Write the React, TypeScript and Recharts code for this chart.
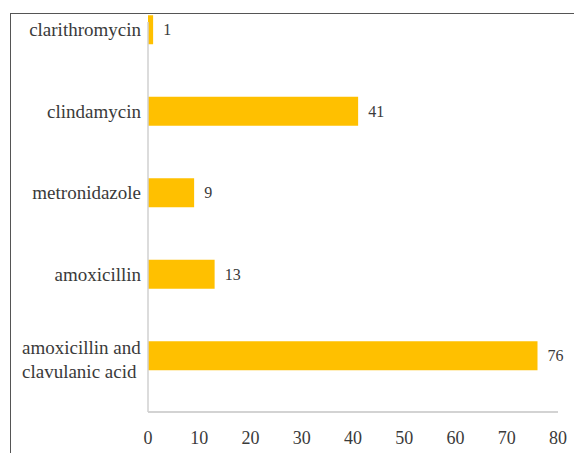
import React from 'react';
import { BarChart, Bar, XAxis, YAxis, LabelList } from 'recharts';

// Antibiotics, listed top to bottom, with number of prescriptions
const antibiotics = [
  'clarithromycin',
  'clindamycin',
  'metronidazole',
  'amoxicillin',
  'amoxicillin and clavulanic acid',
];
const counts = [1, 41, 9, 13, 76];
const xTicks = [0, 10, 20, 30, 40, 50, 60, 70, 80];

const rows = antibiotics.map((name, i) => ({ name, value: counts[i] }));

const FONT = '"Liberation Serif", "Times New Roman", serif';
const TEXT = '#3a3a3a';
const BAR = '#FFC000';

// greedy word wrap for long category names
const wrap = (s: string, max: number): string[] => {
  const words = s.split(' ');
  const lines: string[] = [];
  let cur = '';
  for (const w of words) {
    const next = cur ? cur + ' ' + w : w;
    if (next.length > max && cur) {
      lines.push(cur);
      cur = w;
    } else {
      cur = next;
    }
  }
  if (cur) lines.push(cur);
  return lines;
};

const CategoryTick = (props: any) => {
  const { x, y, payload } = props;
  const lines = wrap(String(payload.value), 15);
  if (lines.length === 1) {
    return (
      <text x={x - 7} y={y + 6} textAnchor="end" fill={TEXT} fontFamily={FONT} fontSize={19}>
        {lines[0]}
      </text>
    );
  }
  return (
    <text x={x - 126} y={y - 2} textAnchor="start" fill={TEXT} fontFamily={FONT} fontSize={19}>
      {lines.map((l, i) => (
        <tspan key={i} x={x - 126} dy={i === 0 ? 0 : 24}>
          {l}
        </tspan>
      ))}
    </text>
  );
};

const ValueTick = (props: any) => {
  const { x, y, payload } = props;
  return (
    <text x={x} y={y + 32} textAnchor="middle" fill={TEXT} fontFamily={FONT} fontSize={18}>
      {payload.value}
    </text>
  );
};

export default function App() {
  return (
    <div
      style={{
        position: 'fixed',
        left: 0,
        top: 0,
        width: 574,
        height: 453,
        overflow: 'hidden',
        background: '#fff',
      }}
    >
      <div
        style={{
          position: 'absolute',
          left: 10,
          top: 13,
          width: 600,
          height: 500,
          borderTop: '1.5px solid #555',
          borderLeft: '1.5px solid #555',
          boxSizing: 'border-box',
        }}
      />
      <div style={{ position: 'absolute', left: 0, top: 0 }}>
        <BarChart
          width={574}
          height={453}
          data={rows}
          layout="vertical"
          margin={{ top: 22, right: 16, bottom: 0, left: 0 }}
        >
          <XAxis
            type="number"
            domain={[0, 80]}
            ticks={xTicks}
            allowDataOverflow
            height={41}
            axisLine={{ stroke: '#c4c4c4', strokeWidth: 1.5 }}
            tickLine={false}
            tickSize={0}
            tickMargin={0}
            tick={<ValueTick />}
            interval={0}
          />
          <YAxis
            type="category"
            dataKey="name"
            width={148}
            padding={{ top: -32.75, bottom: 15.25 }}
            axisLine={{ stroke: '#d0d0d0', strokeWidth: 1.5 }}
            tickLine={false}
            tickSize={0}
            tickMargin={0}
            tick={<CategoryTick />}
            interval={0}
          />
          <Bar dataKey="value" fill={BAR} barSize={29} isAnimationActive={false}>
            <LabelList
              dataKey="value"
              position="right"
              offset={10}
              fill={TEXT}
              fontFamily={FONT}
              fontSize={16}
            />
          </Bar>
        </BarChart>
      </div>
    </div>
  );
}
